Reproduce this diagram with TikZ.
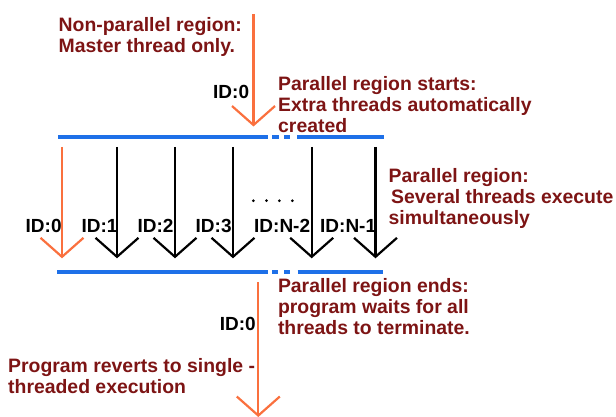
\documentclass[tikz,border=0pt]{standalone}
\usepackage{fontspec}
\setmainfont{Liberation Sans}
\usetikzlibrary{arrows.meta}
\definecolor{txtred}{RGB}{125,20,20}
\definecolor{thorange}{RGB}{250,112,62}
\definecolor{barblue}{RGB}{30,112,232}
\begin{document}
\begin{tikzpicture}[x=1pt,y=-1pt,
  lbl/.style={font=\fontsize{19.4}{21}\selectfont\bfseries, text=txtred, align=left, anchor=north west, inner sep=0pt},
  idlbl/.style={font=\fontsize{19}{21}\selectfont\bfseries, text=black, anchor=base west, inner sep=0pt},
  thr/.style={line width=2.2pt, -{Straight Barb[length=19pt,width=43pt]}},
  master/.style={thr, thorange},
  worker/.style={thr, black},
  bar/.style={barblue, line width=4pt}]
\useasboundingbox (0,0) rectangle (616,417);

% texts
\node[lbl] (nonpar) at (58.5,17.5) {Non-parallel region:\\Master thread only.};
\node[lbl] (starts) at (278,76.5) {Parallel region starts:\\Extra threads automatically\\created};
\node[lbl] (region) at (388.5,168.7) {Parallel region:\\\hspace{2.5pt}Several threads execute\\simultaneously};
\node[lbl] (ends) at (277.8,278.1) {Parallel region ends:\\program waits for all\\threads to terminate.};
\node[lbl] (reverts) at (8,358.7) {Program reverts to single -\\threaded execution};

% top master thread
\coordinate (ms) at (253.5,14);
\coordinate (me) at (253.5,126.5);
\draw[master] (ms) -- (me);
\node[idlbl] (idtop) at (213,98.3) {ID:0};

% bars
\coordinate (ta) at (58,137.5);  \coordinate (tb) at (268,137.5);
\coordinate (tc) at (272,137.5); \coordinate (td) at (279,137.5);
\coordinate (te) at (284,137.5); \coordinate (tf) at (290,137.5);
\coordinate (tg) at (297,137.5); \coordinate (th) at (384,137.5);
\draw[bar] (ta) -- (tb) (tc) -- (td) (te) -- (tf) (tg) -- (th);
\coordinate (ba) at (57,271.7);  \coordinate (bb) at (268,271.7);
\coordinate (bc) at (272,271.7); \coordinate (bd) at (278,271.7);
\coordinate (be) at (284,271.7); \coordinate (bf) at (290,271.7);
\coordinate (bg) at (297.5,271.7); \coordinate (bh) at (383,271.7);
\draw[bar] (ba) -- (bb) (bc) -- (bd) (be) -- (bf) (bg) -- (bh);

% threads
\coordinate (s0) at (62,147);  \coordinate (e0) at (62,258.3);
\coordinate (s1) at (117,147); \coordinate (e1) at (117,258.3);
\coordinate (s2) at (175,147); \coordinate (e2) at (175,258.3);
\coordinate (s3) at (233,147); \coordinate (e3) at (233,258.3);
\coordinate (s4) at (311.7,147); \coordinate (e4) at (311.7,258.3);
\coordinate (s5) at (375.5,147); \coordinate (e5) at (375.5,258.3);
\draw[master] (s0) -- (e0);
\draw[worker] (s1) -- (e1);
\draw[worker] (s2) -- (e2);
\draw[worker] (s3) -- (e3);
\draw[worker] (s4) -- (e4);
\draw[worker] (s5) -- (e5);

\node[idlbl] (id0) at (25.5,232.3) {ID:0};
\node[idlbl] (id1) at (81.3,232.3) {ID:1};
\node[idlbl] (id2) at (137.3,232.3) {ID:2};
\node[idlbl] (id3) at (195.5,232.3) {ID:3};
\node[idlbl] (idn2) at (254,232.3) {ID:N-2};
\node[idlbl] (idn1) at (320,232.3) {ID:N-1};

\foreach \dx [count=\i] in {253.3,266.5,279.3,292.3}
  \fill (\dx,200.7) circle (1.5pt);

% bottom master thread
\coordinate (bs) at (258.3,282);
\coordinate (be2) at (258.3,417);
\draw[master] (bs) -- (be2);
\node[idlbl] (idbot) at (219.7,330) {ID:0};
\end{tikzpicture}
\end{document}
